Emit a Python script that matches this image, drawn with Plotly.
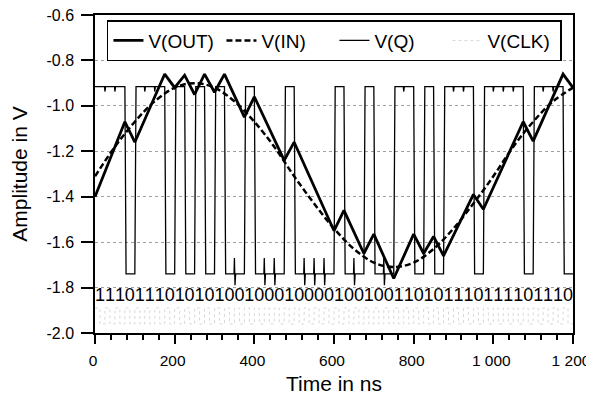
import plotly.graph_objects as go

# --- data -----------------------------------------------------------------
# comparator output, one bit per clock period
BITS = "111011101010100100010000" + "100100110101110111101110"
T_BIT = 25            # ns per bit
Q_HIGH = -0.915
Q_LOW = -1.74
BIT_TEXT_Y = -1.84

# V(OUT): triangle wave, corners at the bit changes
OUT_T = [0, 75, 100, 175, 200, 225, 250, 275, 300, 325, 375, 400, 475, 500,
         600, 625, 675, 700, 750, 800, 825, 850, 875, 950, 975, 1075, 1100,
         1175, 1200]
OUT_V = [-1.40, -1.07, -1.16, -0.86, -0.92, -0.865, -0.95, -0.86, -0.94, -0.86,
         -1.05, -0.96, -1.24, -1.16, -1.55, -1.46, -1.65, -1.565, -1.76, -1.565,
         -1.65, -1.575, -1.66, -1.39, -1.455, -1.07, -1.155, -0.86, -0.92]

# V(IN): slow sine, sampled every 50 ns
IN_T = [0, 50, 100, 150, 200, 250, 300, 350, 400, 450, 500, 550, 600, 650,
        700, 750, 800, 850, 900, 950, 1000, 1050, 1100, 1150, 1200]
IN_V = [-1.31, -1.18, -1.07, -0.98, -0.92, -0.90, -0.92, -0.98, -1.07, -1.18,
        -1.31, -1.43, -1.54, -1.63, -1.69, -1.71, -1.69, -1.63, -1.54, -1.43,
        -1.31, -1.18, -1.07, -0.98, -0.92]

# V(CLK): faint clock at the bottom, toggles every half period
CLK_STATES = "10" * len(BITS)
CLK_HIGH = -1.89
CLK_LOW = -1.96

X_TICKS = [0, 200, 400, 600, 800, 1000, 1200]
X_LABELS = ["0", "200", "400", "600", "800", "1 000", "1 200"]
Y_TICKS = [-2.0, -1.8, -1.6, -1.4, -1.2, -1.0, -0.8, -0.6]
Y_LABELS = ["-2.0", "-1.8", "-1.6", "-1.4", "-1.2", "-1.0", "-0.8", "-0.6"]

FONT = "Liberation Sans, Arial, sans-serif"

# --- build the step traces ---------------------------------------------------
# Q: square wave with a short edge, plus the small clock feed-through
# spikes where the bit does not change
lvl = {"1": Q_HIGH, "0": Q_LOW}
q_t, q_v = [0], [lvl[BITS[0]]]
for k in range(1, len(BITS)):
    t = k * T_BIT
    a, b = BITS[k - 1], BITS[k]
    if a != b:
        q_t += [t, t + 3]
        q_v += [lvl[a], lvl[b]]
    elif a == "0":
        q_t += [t - 1, t, t + 1.5, t + 3]
        q_v += [Q_LOW, Q_LOW + 0.07, Q_LOW - 0.05, Q_LOW]
    else:
        q_t += [t - 1, t, t + 1.5]
        q_v += [Q_HIGH, Q_HIGH - 0.022, Q_HIGH]
q_t.append(len(BITS) * T_BIT)
q_v.append(lvl[BITS[-1]])

clk_lvl = {"1": CLK_HIGH, "0": CLK_LOW}
half = T_BIT / 2
clk_t, clk_v = [], []
for k, s in enumerate(CLK_STATES):
    clk_t += [k * half, (k + 1) * half]
    clk_v += [clk_lvl[s], clk_lvl[s]]

bit_x = [k * T_BIT + T_BIT / 2 for k in range(len(BITS))]

fig = go.Figure()

fig.add_trace(go.Scatter(
    x=clk_t, y=clk_v, mode="lines", name="V(CLK)", legendrank=4,
    line=dict(color="#d8d8d8", width=1, dash="dot"),
))
fig.add_trace(go.Scatter(
    x=q_t, y=q_v, mode="lines", name="V(Q)", legendrank=3,
    line=dict(color="black", width=1.3),
))
fig.add_trace(go.Scatter(
    x=IN_T, y=IN_V, mode="lines", name="V(IN)", legendrank=2,
    line=dict(color="black", width=2.5, dash="6px,3px", shape="spline"),
))
fig.add_trace(go.Scatter(
    x=OUT_T, y=OUT_V, mode="lines", name="V(OUT)", legendrank=1,
    line=dict(color="black", width=2.8),
))
fig.add_trace(go.Scatter(
    x=bit_x, y=[BIT_TEXT_Y] * len(BITS), mode="text", text=list(BITS),
    textfont=dict(family=FONT, size=18, color="black"), showlegend=False,
))

# the page keeps its body margin, so the figure is kept small enough
# that the page does not scroll
fig.update_layout(
    width=586, height=391,
    margin=dict(l=87, r=21, t=7, b=66),
    paper_bgcolor="white", plot_bgcolor="white",
    font=dict(family=FONT, color="black", size=16),
    legend=dict(
        orientation="h", x=0.025, y=0.984, xanchor="left", yanchor="top",
        bordercolor="black", borderwidth=1.5, bgcolor="white",
        font=dict(size=19), entrywidth=68, entrywidthmode="pixels",
    ),
)
fig.update_xaxes(
    range=[0, 1200], tickvals=X_TICKS, ticktext=X_LABELS, automargin=False,
    showline=True, linecolor="black", linewidth=1.5, mirror=True,
    ticks="outside", ticklen=9, tickwidth=1.5, tickcolor="black",
    ticklabelstandoff=4, ticklabeloverflow="allow", ticklabelshift=-2,
    tickfont=dict(size=15.5),
    minor=dict(dtick=40, tick0=0, ticks="outside", ticklen=5, tickcolor="black"),
    showgrid=False, zeroline=False,
    title=dict(text="Time in ns", font=dict(size=21), standoff=8),
)
fig.update_yaxes(
    range=[-2.0, -0.6], tickvals=Y_TICKS, ticktext=Y_LABELS, automargin=False,
    showline=True, linecolor="black", linewidth=1.5, mirror=True,
    ticks="outside", ticklen=12, tickwidth=1.5, tickcolor="black",
    ticklabelstandoff=4, ticklabeloverflow="allow",
    showgrid=True, gridcolor="#a0a0a0", griddash="dot", gridwidth=1,
    zeroline=False,
    title=dict(text="Amplitude in V", font=dict(size=21), standoff=21),
)

fig.write_html("out.html")
